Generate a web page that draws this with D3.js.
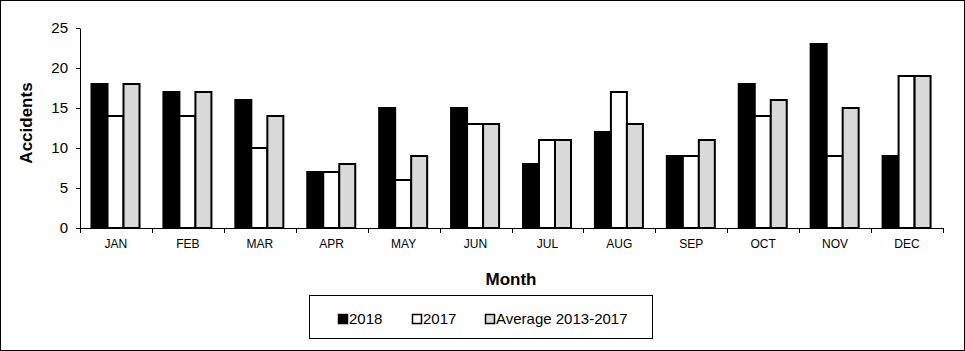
<!DOCTYPE html>
<html>
<head>
<meta charset="utf-8">
<script src="https://cdn.jsdelivr.net/npm/d3@7"></script>
<style>
  body { margin: 0; background: #fff; }
  svg { display: block; font-family: "Liberation Sans", Arial, sans-serif; }
  .axis path, .axis line { stroke: #000; stroke-width: 1; }
  .axis text { fill: #000; }
</style>
</head>
<body>
<svg id="chart" width="965" height="351"></svg>
<script>
// Monthly accidents
const months = ["JAN", "FEB", "MAR", "APR", "MAY", "JUN", "JUL", "AUG", "SEP", "OCT", "NOV", "DEC"];
const seriesNames = ["2018", "2017", "Average 2013-2017"];
const values2018 = [18, 17, 16, 7, 15, 15, 8, 12, 9, 18, 23, 9];
const values2017 = [14, 14, 10, 7, 6, 13, 11, 17, 9, 14, 9, 19];
const valuesAvg = [18, 17, 14, 8, 9, 13, 11, 13, 11, 16, 15, 19];
const yTicks = [0, 5, 10, 15, 20, 25];
const colors = ["#000000", "#ffffff", "#d9d9d9"];

const svg = d3.select("#chart");

// outer frame
svg.append("rect")
  .attr("x", 0.5).attr("y", 0.5)
  .attr("width", 964).attr("height", 350)
  .attr("fill", "none").attr("stroke", "#000");

const plot = { left: 80, right: 943, top: 28, bottom: 228 };

const x = d3.scaleBand().domain(months).range([plot.left, plot.right]);
const x1 = d3.scaleBand().domain(seriesNames).range([11.5, 59.5]);
const y = d3.scaleLinear().domain([0, 25]).range([plot.bottom, plot.top]);

const series = [values2018, values2017, valuesAvg];

// bars
const groups = svg.append("g")
  .selectAll("g")
  .data(months)
  .join("g")
  .attr("transform", d => `translate(${x(d)},0)`);

groups.selectAll("rect")
  .data((m, i) => series.map((s, k) => ({ name: seriesNames[k], value: s[i], k: k })))
  .join("rect")
  .attr("x", d => x1(d.name))
  .attr("y", d => y(d.value))
  .attr("width", x1.bandwidth())
  .attr("height", d => plot.bottom - y(d.value))
  .attr("fill", d => colors[d.k])
  .attr("stroke", "#000")
  .attr("stroke-width", 2);

// y axis
const yAxis = svg.append("g")
  .attr("class", "axis")
  .attr("transform", `translate(${plot.left},0)`)
  .call(d3.axisLeft(y).tickValues(yTicks).tickSize(4).tickPadding(8).tickSizeOuter(0));
yAxis.selectAll("text").style("font-size", "15px");

// x axis with ticks at category boundaries
const xAxis = svg.append("g")
  .attr("class", "axis")
  .attr("transform", `translate(0,${plot.bottom})`);
xAxis.append("line")
  .attr("x1", plot.left).attr("x2", plot.right)
  .attr("y1", 0.5).attr("y2", 0.5)
  .attr("stroke", "#000");
xAxis.selectAll("line.tick")
  .data(months.concat(["end"]))
  .join("line")
  .attr("class", "tick")
  .attr("x1", (d, i) => Math.round(plot.left + i * x.bandwidth()) + 0.5)
  .attr("x2", (d, i) => Math.round(plot.left + i * x.bandwidth()) + 0.5)
  .attr("y1", 0).attr("y2", 5)
  .attr("stroke", "#000");
xAxis.selectAll("text")
  .data(months)
  .join("text")
  .attr("x", d => x(d) + x.bandwidth() / 2)
  .attr("y", 20)
  .attr("text-anchor", "middle")
  .style("font-size", "12px")
  .text(d => d);

// axis titles
svg.append("text")
  .attr("x", 511).attr("y", 285)
  .attr("text-anchor", "middle")
  .style("font-size", "17px").style("font-weight", "bold")
  .text("Month");

svg.append("text")
  .attr("transform", "translate(32,123) rotate(-90)")
  .attr("text-anchor", "middle")
  .style("font-size", "17px").style("font-weight", "bold")
  .text("Accidents");

// legend
svg.append("rect")
  .attr("x", 309.5).attr("y", 295.5)
  .attr("width", 343).attr("height", 43)
  .attr("fill", "none").attr("stroke", "#000");

const legendX = [338, 412, 485];
const legend = svg.append("g")
  .selectAll("g")
  .data(seriesNames)
  .join("g")
  .attr("transform", (d, i) => `translate(${legendX[i]},314)`);
legend.append("rect")
  .attr("x", 0.5).attr("y", 0.5)
  .attr("width", 9).attr("height", 9)
  .attr("fill", (d, i) => colors[i])
  .attr("stroke", "#000")
  .attr("stroke-width", 1.5);
legend.append("text")
  .attr("x", 11).attr("y", 10)
  .style("font-size", "15px")
  .text(d => d);
</script>
</body>
</html>
